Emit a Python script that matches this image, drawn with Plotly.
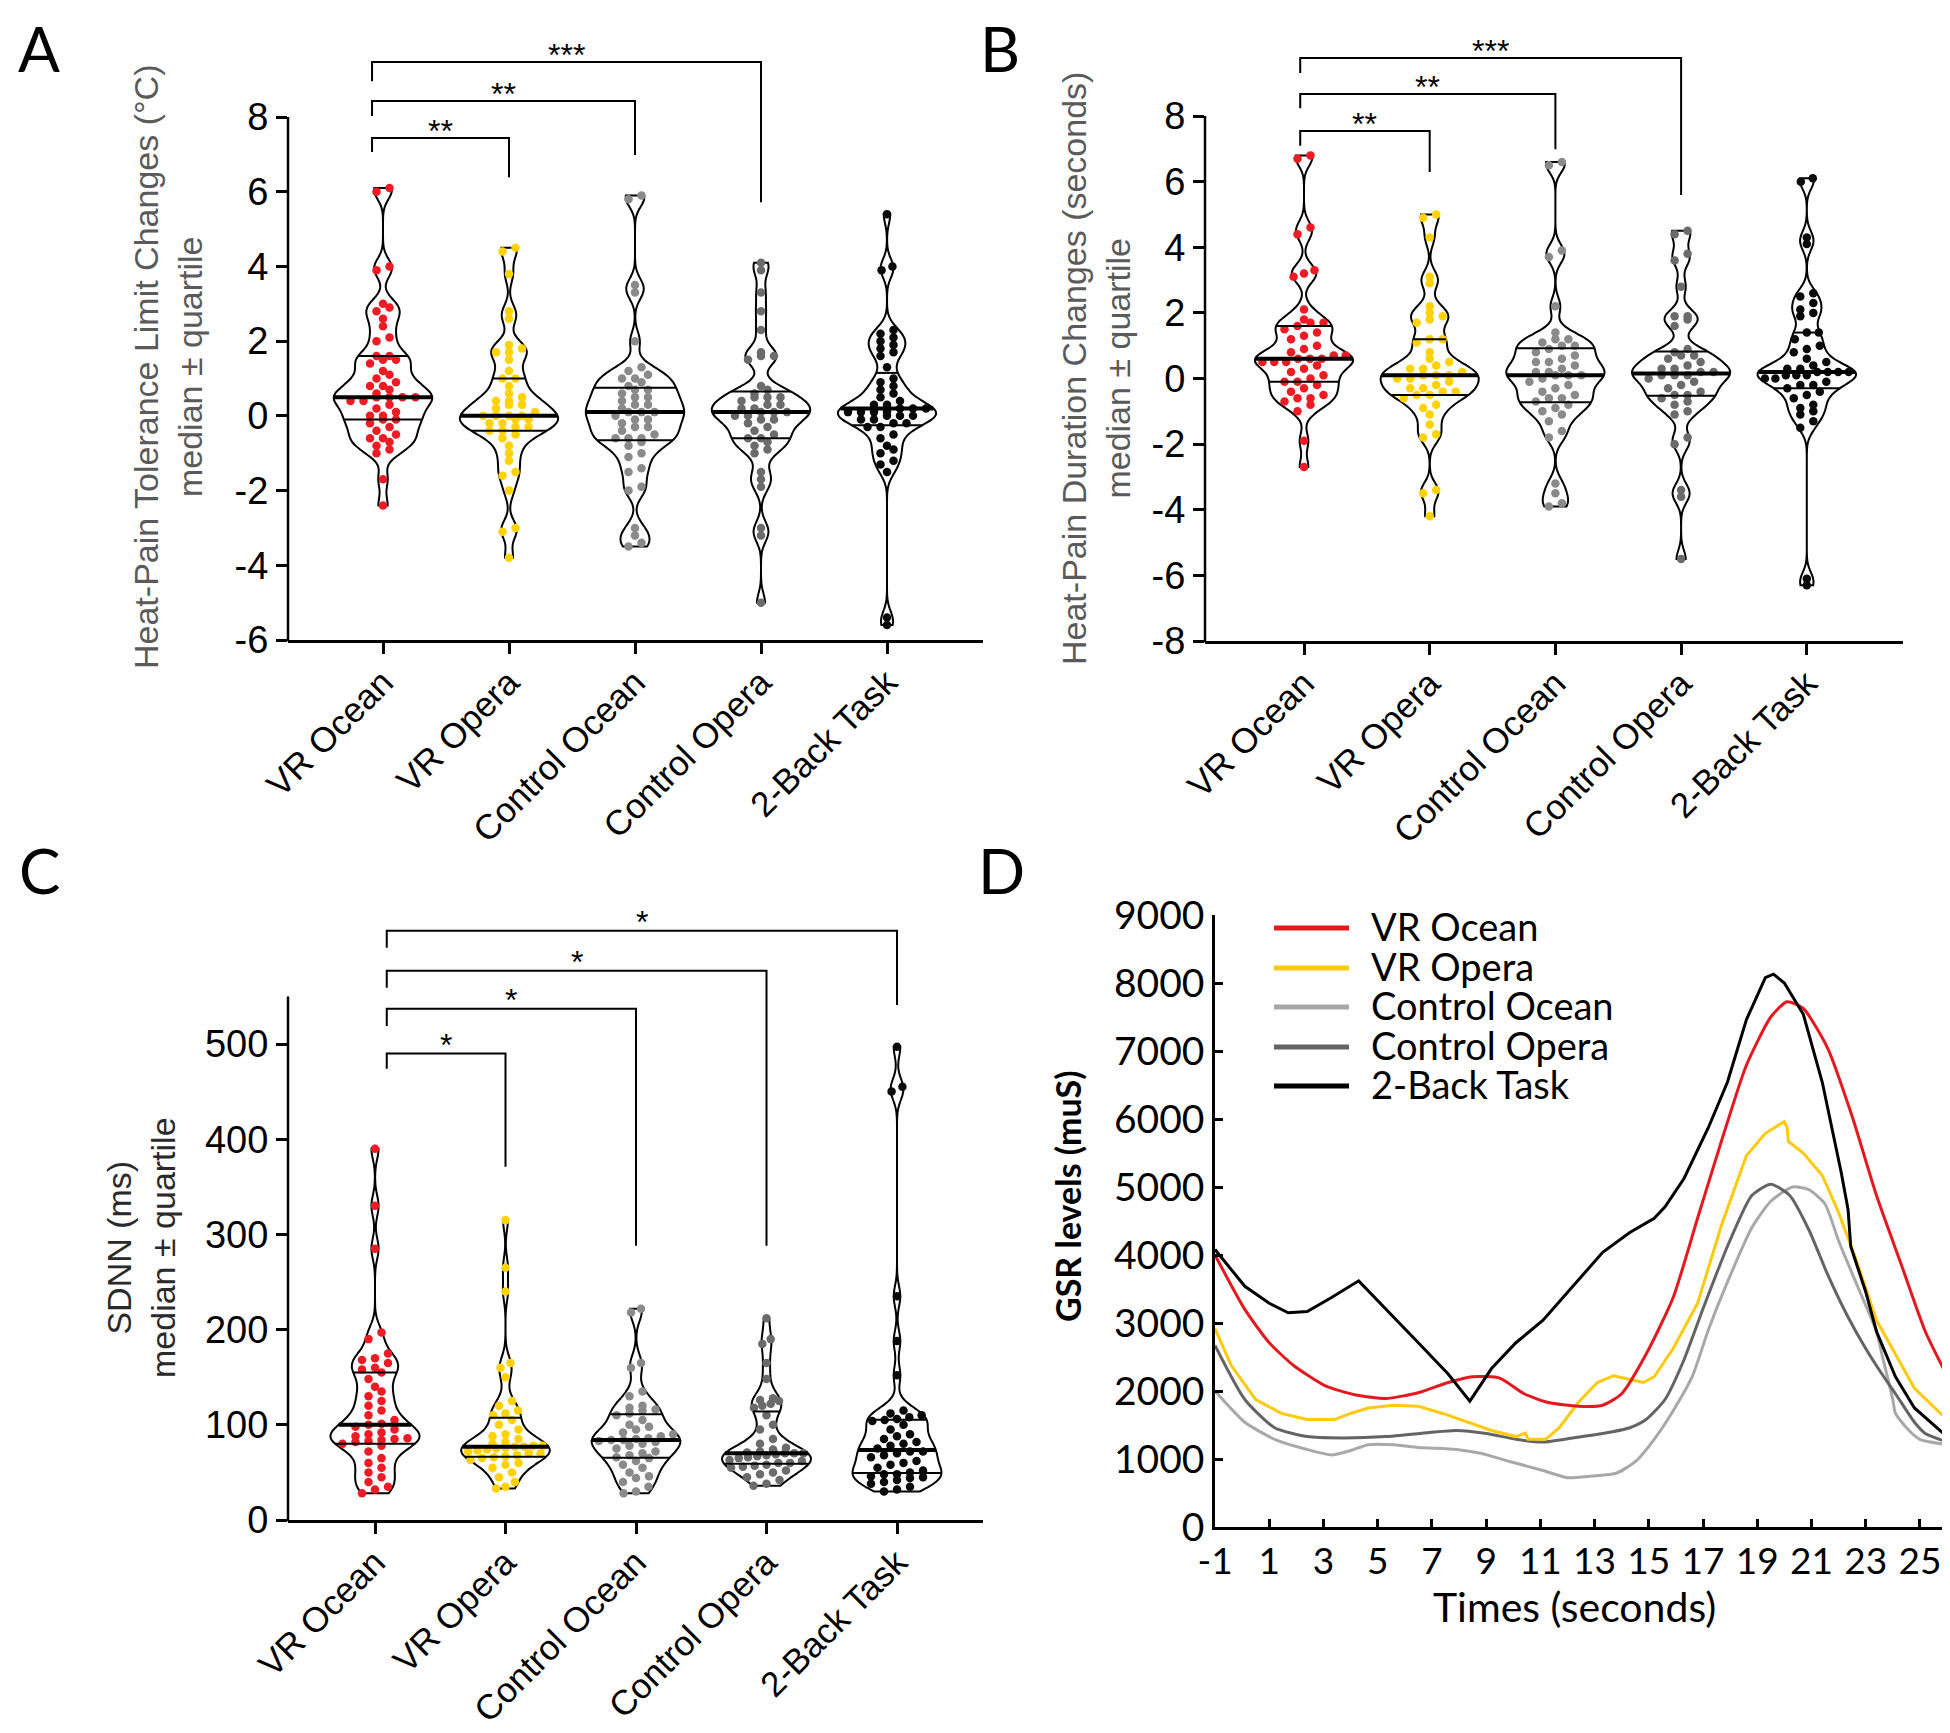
import numpy as np
import plotly.graph_objects as go

W, H = 1950, 1733

GROUPS = ["VR Ocean", "VR Opera", "Control Ocean", "Control Opera", "2-Back Task"]
POINT_COLORS = ["#ed1c24", "#ffd200", "#8a8a8a", "#6b6b6b", "#0a0a0a"]

# ---------------- Panel A : heat-pain tolerance limit changes (deg C)
A_VR_OCEAN = [6.1, 6.0, 4.0, 3.9, 3.0, 2.9, 2.8, 2.6, 2.4, 2.1, 2.0, 1.6, 1.6, 1.5, 1.5, 1.4, 1.2, 1.1, 1.0, 0.9,
              0.8, 0.8, 0.7, 0.6, 0.5, 0.5, 0.5, 0.5, 0.4, 0.4, 0.3, 0.2, 0.1, 0.0, 0.0, -0.1, -0.1, -0.2, -0.3,
              -0.4, -0.5, -0.6, -0.6, -0.7, -0.8, -0.9, -1.0, -1.7, -2.4]
A_VR_OPERA = [4.5, 4.4, 3.8, 2.8, 2.6, 1.9, 1.8, 1.7, 1.7, 1.5, 1.2, 1.0, 1.0, 0.8, 0.6, 0.5, 0.4, 0.4, 0.3, 0.3,
              0.2, 0.1, 0.0, 0.0, 0.0, 0.0, -0.1, -0.1, -0.2, -0.2, -0.3, -0.3, -0.4, -0.4, -0.5, -0.6, -0.8,
              -1.0, -1.2, -1.5, -1.6, -2.0, -3.0, -3.1, -3.8]
A_CTRL_OCEAN = [5.9, 5.8, 3.5, 3.3, 2.0, 1.3, 1.2, 1.1, 1.0, 1.0, 0.9, 0.8, 0.7, 0.7, 0.6, 0.5, 0.5, 0.4, 0.3, 0.3,
                0.2, 0.1, 0.1, 0.1, 0.0, -0.1, -0.1, -0.2, -0.3, -0.3, -0.4, -0.5, -0.6, -0.6, -0.6, -0.7, -0.8,
                -1.0, -1.1, -1.4, -1.5, -1.9, -2.0, -3.0, -3.2, -3.4, -3.5]
A_CTRL_OPERA = [4.1, 3.9, 3.3, 2.8, 2.3, 1.7, 1.6, 1.6, 1.5, 0.8, 0.7, 0.6, 0.5, 0.5, 0.5, 0.4, 0.3, 0.3, 0.2, 0.2,
                0.1, 0.1, 0.1, 0.0, 0.0, -0.1, -0.1, -0.2, -0.3, -0.4, -0.5, -0.6, -0.6, -0.7, -0.8, -0.9, -1.0,
                -1.5, -1.7, -1.9, -3.0, -3.2, -5.0]
A_2BACK = [5.4, 4.0, 3.9, 2.3, 2.2, 2.1, 2.0, 1.9, 1.8, 1.7, 1.6, 1.3, 1.0, 0.9, 0.8, 0.7, 0.6, 0.5, 0.4, 0.3, 0.3,
           0.2, 0.2, 0.2, 0.1, 0.1, 0.1, 0.1, 0.0, 0.0, 0.0, -0.1, -0.1, -0.2, -0.2, -0.3, -0.3, -0.5, -0.6, -0.8,
           -0.9, -1.0, -1.2, -1.3, -1.5, -5.4, -5.6]
A_YTICKS = [-6, -4, -2, 0, 2, 4, 6, 8]
# (target group, left-end y, bracket y, right-end y, label)
A_BRACKETS = [(1, 7.06, 7.44, 6.39, "**"), (2, 8.03, 8.43, 6.98, "**"), (3, 8.96, 9.47, 5.72, "***")]

# ---------------- Panel B : heat-pain duration changes (seconds)
B_VR_OCEAN = [6.8, 6.7, 4.6, 4.4, 3.3, 3.2, 3.1, 2.1, 1.8, 1.7, 1.7, 1.6, 1.5, 1.4, 1.3, 1.2, 1.0, 0.9, 0.8, 0.7,
              0.7, 0.6, 0.6, 0.6, 0.5, 0.5, 0.5, 0.4, 0.3, 0.2, 0.1, 0.0, -0.1, -0.1, -0.2, -0.3, -0.4, -0.5,
              -0.6, -0.6, -0.7, -0.8, -1.0, -1.9, -2.7]
B_VR_OPERA = [5.0, 4.9, 4.3, 3.1, 2.9, 2.2, 2.0, 1.9, 1.8, 1.7, 1.2, 1.2, 1.1, 0.8, 0.6, 0.5, 0.4, 0.3, 0.3, 0.2,
              0.1, 0.1, 0.1, 0.0, 0.0, -0.1, -0.2, -0.3, -0.3, -0.4, -0.4, -0.5, -0.5, -0.6, -0.8, -0.9, -1.1,
              -1.4, -1.7, -1.8, -3.4, -3.5, -4.2]
B_CTRL_OCEAN = [6.6, 6.5, 3.9, 3.7, 2.2, 1.4, 1.2, 1.2, 1.1, 1.0, 1.0, 0.9, 0.8, 0.7, 0.6, 0.5, 0.5, 0.4, 0.3, 0.2,
                0.2, 0.1, 0.1, 0.1, 0.0, -0.1, -0.2, -0.3, -0.4, -0.5, -0.6, -0.6, -0.7, -0.8, -0.9, -1.0, -1.1,
                -1.3, -1.6, -1.8, -3.2, -3.5, -3.8, -3.9]
B_CTRL_OPERA = [4.5, 4.4, 3.8, 3.6, 2.8, 1.9, 1.9, 1.8, 1.6, 0.9, 0.8, 0.7, 0.7, 0.6, 0.5, 0.4, 0.3, 0.3, 0.2, 0.2,
                0.1, 0.1, 0.1, 0.0, -0.1, -0.2, -0.3, -0.4, -0.5, -0.5, -0.6, -0.7, -0.8, -1.0, -1.1, -1.8, -2.0,
                -3.4, -3.6, -5.5]
B_2BACK = [6.1, 6.0, 4.3, 4.1, 2.6, 2.5, 2.3, 2.1, 2.0, 1.9, 1.4, 1.4, 1.2, 1.0, 0.9, 0.8, 0.6, 0.5, 0.4, 0.3, 0.3,
           0.2, 0.2, 0.2, 0.2, 0.1, 0.1, 0.1, 0.0, 0.0, -0.1, -0.2, -0.2, -0.3, -0.4, -0.5, -0.6, -0.8, -0.9, -1.0,
           -1.1, -1.3, -1.5, -6.1, -6.3]
B_YTICKS = [-8, -6, -4, -2, 0, 2, 4, 6, 8]
B_BRACKETS = [(1, 7.09, 7.54, 6.29, "**"), (2, 8.24, 8.67, 6.99, "**"), (3, 9.31, 9.77, 5.59, "***")]

# ---------------- Panel C : SDNN (ms)
C_VR_OCEAN = [390, 330, 285, 197, 190, 175, 170, 168, 165, 160, 158, 155, 148, 140, 135, 130, 125, 120, 115, 110,
              105, 101, 100, 98, 95, 92, 90, 88, 86, 85, 84, 83, 82, 80, 78, 72, 65, 60, 55, 50, 45, 40, 35, 32, 28]
C_VR_OPERA = [315, 265, 240, 165, 160, 150, 125, 120, 115, 112, 110, 105, 100, 95, 90, 88, 85, 82, 80, 78, 78, 77,
              77, 76, 75, 74, 73, 72, 70, 70, 68, 67, 66, 65, 63, 60, 58, 55, 50, 45, 40, 35, 33]
C_CTRL_OCEAN = [222, 218, 165, 160, 135, 130, 120, 118, 116, 115, 112, 110, 105, 100, 98, 95, 92, 90, 88, 86, 85,
                84, 84, 83, 82, 80, 78, 75, 72, 70, 68, 66, 65, 62, 58, 55, 50, 46, 44, 40, 35, 30, 28]
C_CTRL_OPERA = [212, 190, 185, 165, 148, 128, 126, 125, 122, 120, 118, 110, 100, 95, 85, 80, 76, 74, 72, 71, 70,
                70, 70, 69, 68, 67, 66, 65, 63, 62, 60, 60, 58, 57, 56, 55, 52, 50, 48, 45, 42, 38, 36]
C_2BACK = [497, 455, 450, 235, 188, 152, 115, 112, 110, 108, 106, 105, 104, 100, 95, 90, 88, 85, 82, 80, 78, 75,
           72, 72, 70, 68, 66, 62, 60, 58, 55, 52, 50, 48, 48, 46, 45, 44, 42, 40, 38, 35, 32, 30]
C_YTICKS = [0, 100, 200, 300, 400, 500]
C_BRACKETS = [(1, 474, 490, 371, "*"), (2, 519, 537, 288, "*"), (3, 559, 577, 288, "*"), (4, 601, 619, 541, "*")]

# ---------------- Panel D : GSR time courses
D_T_VR_OCEAN = [-1, 0.1, 1.0, 1.9, 3.05, 4.2, 5.3, 6.5, 7.6, 8.5, 9.5, 10.4, 11.3, 12.4, 13.3, 14.0, 14.9, 15.9,
                16.8, 17.7, 18.6, 19.5, 20.1, 20.7, 21.6, 22.5, 23.4, 24.3, 25.2, 26.0]
D_V_VR_OCEAN = [4000, 3200, 2710, 2375, 2080, 1940, 1890, 1975, 2125, 2210, 2190, 1960, 1830, 1775, 1790, 1960,
                2540, 3375, 4540, 5700, 6790, 7500, 7725, 7625, 7040, 6040, 4875, 3875, 2875, 2225]
D_T_VR_OPERA = [-1, -0.4, 0.5, 1.45, 2.4, 3.4, 4.0, 4.65, 5.6, 6.5, 7.4, 8.3, 9.2, 10.1, 10.45, 10.55, 11.2, 11.7,
                12.4, 13.1, 13.7, 14.3, 14.8, 15.2, 15.9, 16.8, 17.7, 18.6, 19.3, 20.0, 20.1, 20.15, 20.7, 21.4,
                22.0, 22.7, 23.4, 24.1, 24.8, 26.0]
D_V_VR_OPERA = [2920, 2375, 1875, 1670, 1580, 1580, 1670, 1750, 1790, 1775, 1670, 1540, 1420, 1330, 1380, 1290,
                1290, 1460, 1830, 2125, 2225, 2170, 2125, 2210, 2625, 3290, 4460, 5460, 5790, 5960, 5875, 5670,
                5500, 5170, 4625, 3875, 3040, 2540, 2040, 1580]
D_T_CTRL_OCEAN = [-1, 0.1, 1.2, 2.4, 3.3, 4.0, 4.65, 5.6, 6.5, 7.9, 8.8, 9.9, 11.1, 12.0, 12.9, 13.8, 14.5, 15.2,
                  15.9, 16.6, 17.2, 17.9, 18.8, 19.5, 20.3, 20.9, 21.5, 22.0, 22.7, 23.4, 23.6, 24.0, 24.1, 24.6,
                  25.0, 26.0]
D_V_CTRL_OCEAN = [2000, 1540, 1290, 1140, 1060, 1125, 1210, 1210, 1170, 1140, 1085, 960, 830, 725, 750, 790, 960,
                  1290, 1710, 2210, 2900, 3600, 4400, 4790, 5000, 4960, 4750, 4210, 3540, 2875, 2540, 1875, 1670,
                  1420, 1290, 1210]
D_T_CTRL_OPERA = [-1, 0.1, 1.2, 2.4, 3.7, 5.3, 6.9, 7.9, 9.0, 10.1, 11.1, 12.2, 13.3, 14.3, 14.9, 15.6, 16.3, 17.0,
                  17.9, 18.8, 19.5, 20.2, 20.9, 21.6, 22.3, 23.0, 23.6, 24.1, 24.8, 25.2, 26.0]
D_V_CTRL_OPERA = [2670, 1875, 1460, 1330, 1310, 1330, 1390, 1420, 1375, 1290, 1250, 1310, 1375, 1460, 1580, 1875,
                  2460, 3210, 4125, 4875, 5040, 4875, 4375, 3710, 3125, 2625, 2250, 1960, 1540, 1375, 1250]
D_T_2BACK = [-1, 0.1, 1.0, 1.7, 2.4, 3.3, 4.3, 5.3, 6.5, 7.6, 8.4, 9.2, 10.1, 11.1, 12.2, 13.3, 14.3, 15.2, 15.6,
             16.3, 17.2, 17.9, 18.6, 19.3, 19.6, 20.0, 20.7, 21.4, 22.1, 22.35, 22.45, 23.0, 23.4, 24.1, 24.8, 26.0]
D_V_2BACK = [4080, 3540, 3290, 3150, 3170, 3375, 3620, 3210, 2710, 2250, 1850, 2330, 2710, 3040, 3540, 4040, 4330,
             4540, 4710, 5125, 5875, 6540, 7460, 8080, 8130, 8000, 7540, 6540, 5210, 4670, 4125, 3460, 2875, 2210,
             1750, 1330]
D_XTICKS = list(range(-1, 26, 2))
D_YTICKS = list(range(0, 9001, 1000))
D_LINE_COLORS = ["#e3191f", "#ffc90e", "#a8a8a8", "#646464", "#000000"]

# ---------------------------------------------------------------- layout helpers
FONT_V = "Liberation Sans, Arial, sans-serif"
FONT_D = "Lato, Noto Sans, sans-serif"


def py(p):
    return 1 - p / H


def px(p):
    return p / W


def tick_text(vals):
    return [str(v) for v in vals]  # plain hyphen-minus, as in the figure


PANELS = [
    dict(key="", groups=[A_VR_OCEAN, A_VR_OPERA, A_CTRL_OCEAN, A_CTRL_OPERA, A_2BACK], x_px=(280, 975),
         cat=(375, 126.0), yref=((8, 109), (-6, 632)), y_px=(15, 632), yticks=A_YTICKS, ax_top=8, ax_bot=-6,
         bw=0.25, width=0.78, row_h=0.18, brackets=A_BRACKETS, bl=-0.087, starshift=7),
    dict(key="2", groups=[B_VR_OCEAN, B_VR_OPERA, B_CTRL_OCEAN, B_CTRL_OPERA, B_2BACK], x_px=(1197, 1895),
         cat=(1296, 125.7), yref=((8, 108), (-8, 633)), y_px=(10, 633), yticks=B_YTICKS, ax_top=8, ax_bot=-8,
         bw=0.27, width=0.78, row_h=0.2, brackets=B_BRACKETS, bl=-0.03, starshift=7),
    dict(key="3", groups=[C_VR_OCEAN, C_VR_OPERA, C_CTRL_OCEAN, C_CTRL_OPERA, C_2BACK], x_px=(280, 975),
         cat=(367, 130.5), yref=((500, 1036), (0, 1512)), y_px=(880, 1512), yticks=C_YTICKS, ax_top=550,
         ax_bot=0, bw=11.0, width=0.68, row_h=7.0, brackets=C_BRACKETS, bl=0.09, starshift=9),
]


def make_hw(vals, bw, width):
    v = np.asarray(vals, float)
    lo, hi = v.min(), v.max()
    n = int(np.ceil((hi - lo) / (bw / 3)))
    grid = lo + np.arange(n + 1) * (hi - lo) / n

    def dens(y):
        y = np.atleast_1d(np.asarray(y, float))
        return np.exp(-0.5 * ((y[:, None] - v[None, :]) / bw) ** 2).sum(1)

    mx = dens(grid).max()
    return lambda y: float(width / 2 * dens(y)[0] / mx)


def swarm(vals, hw, row_h, dot_w):
    v = np.sort(np.asarray(vals, float))
    rows, cur = [], [v[0]]
    for x in v[1:]:
        if x - cur[0] <= row_h:
            cur.append(x)
        else:
            rows.append(cur)
            cur = [x]
    rows.append(cur)
    xs, ys = [], []
    for r in rows:
        k = len(r)
        a = min(0.85 * hw(np.mean(r)), (k - 1) / 2 * dot_w)
        offs = np.linspace(-a, a, k) if k > 1 else [0.0]
        xs += list(offs)
        ys += list(r)
    return np.array(xs), np.array(ys)


fig = go.Figure()
layout = dict(template="none", width=W, height=H, margin=dict(l=0, r=0, t=0, b=0, pad=0),
              paper_bgcolor="white", plot_bgcolor="rgba(0,0,0,0)", showlegend=False, violinmode="overlay",
              violingap=0, violingroupgap=0)
shapes, annos = [], []

for P in PANELS:
    k = P["key"]
    xa, ya = "x" + k, "y" + k
    c0, step = P["cat"]
    xr = [(P["x_px"][0] - c0) / step, (P["x_px"][1] - c0) / step]
    (v1, p1), (v2, p2) = P["yref"]
    s = (p2 - p1) / (v1 - v2)
    yr = [v2 - (P["y_px"][1] - p2) / s, v1 + (p1 - P["y_px"][0]) / s]

    def ypix(v, v1=v1, p1=p1, s=s):
        return p1 + (v1 - v) * s

    layout["xaxis" + k] = dict(domain=[px(P["x_px"][0]), px(P["x_px"][1])], range=xr, type="linear",
                               anchor=ya, tickvals=list(range(5)), ticktext=GROUPS, tickangle=-45,
                               ticks="outside", ticklen=11, tickwidth=2.5, tickcolor="black",
                               showline=True, linewidth=2.5, linecolor="black", showgrid=False,
                               zeroline=False, automargin=False, ticklabelstandoff=-6,
                               tickfont=dict(family=FONT_V, size=35, color="black"))
    layout["yaxis" + k] = dict(domain=[py(P["y_px"][1]), py(P["y_px"][0])], range=yr, anchor=xa,
                               tickvals=P["yticks"], ticktext=tick_text(P["yticks"]), ticks="outside",
                               ticklen=11, tickwidth=2.5, automargin=False,
                               tickcolor="black", showline=False, showgrid=False, zeroline=False,
                               tickfont=dict(family=FONT_V, size=38, color="black"))
    shapes.append(dict(type="line", xref="paper", yref="paper", x0=px(P["x_px"][0]), x1=px(P["x_px"][0]),
                       y0=py(ypix(P["ax_bot"]) + 1.2), y1=py(ypix(P["ax_top"])),
                       line=dict(color="black", width=2.5)))

    dot_w = 13.0 / step
    for i, vals in enumerate(P["groups"]):
        fig.add_trace(go.Violin(x=[i] * len(vals), y=vals, xaxis=xa, yaxis=ya, width=P["width"],
                                bandwidth=P["bw"], spanmode="hard", points=False, scalemode="width",
                                line=dict(color="black", width=2), fillcolor="rgba(255,255,255,0)",
                                box_visible=False, meanline_visible=False, hoverinfo="skip",
                                showlegend=False))
        hw = make_hw(vals, P["bw"], P["width"])
        ox, oy = swarm(vals, hw, P["row_h"], dot_w)
        fig.add_trace(go.Scatter(x=i + ox, y=oy, xaxis=xa, yaxis=ya, mode="markers",
                                 marker=dict(size=8.5, color=POINT_COLORS[i], line=dict(width=0)),
                                 hoverinfo="skip", showlegend=False))
        q1, med, q3 = np.percentile(np.asarray(vals, float), [25, 50, 75])
        qx, qy = [], []
        for q in (q1, q3):
            h = hw(q)
            qx += [i - h, i + h, None]
            qy += [q, q, None]
        fig.add_trace(go.Scatter(x=qx, y=qy, xaxis=xa, yaxis=ya, mode="lines",
                                 line=dict(color="black", width=2), hoverinfo="skip", showlegend=False))
        h = hw(med)
        fig.add_trace(go.Scatter(x=[i - h, i + h], y=[med, med], xaxis=xa, yaxis=ya, mode="lines",
                                 line=dict(color="black", width=4), hoverinfo="skip", showlegend=False))

    # significance brackets
    for (j, yl, yb, yrr, lab) in P["brackets"]:
        fig.add_trace(go.Scatter(x=[P["bl"], P["bl"], j, j], y=[yl, yb, yb, yrr], xaxis=xa, yaxis=ya,
                                 mode="lines", line=dict(color="black", width=2), hoverinfo="skip",
                                 showlegend=False))
        annos.append(dict(xref=xa, yref=ya, x=(P["bl"] + j) / 2, y=yb, text=lab, showarrow=False,
                          xanchor="center", yanchor="middle", yshift=P["starshift"],
                          font=dict(family=FONT_V, size=32, color="black")))

# y titles of violin panels
annos.append(dict(xref="paper", yref="paper", x=px(160), y=py(359), textangle=-90, showarrow=False,
                  text="Heat-Pain Tolerance Limit Changes (°C)<br>median ± quartile",
                  xanchor="center", yanchor="middle", font=dict(family=FONT_V, size=34, color="#5a5a5a")))
annos.append(dict(xref="paper", yref="paper", x=px(1088), y=py(361), textangle=-90, showarrow=False,
                  text="Heat-Pain Duration Changes (seconds)<br>median ± quartile",
                  xanchor="center", yanchor="middle", font=dict(family=FONT_V, size=34, color="#5a5a5a")))
annos.append(dict(xref="paper", yref="paper", x=px(133), y=py(1240), textangle=-90, showarrow=False,
                  text="SDNN (ms)<br>median ± quartile",
                  xanchor="center", yanchor="middle", font=dict(family=FONT_V, size=34, color="#2a2a2a")))

# ---------------------------------------------------------------- Panel D
D_SERIES = [("VR Ocean", D_T_VR_OCEAN, D_V_VR_OCEAN, "spline"),
            ("VR Opera", D_T_VR_OPERA, D_V_VR_OPERA, "linear"),
            ("Control Ocean", D_T_CTRL_OCEAN, D_V_CTRL_OCEAN, "spline"),
            ("Control Opera", D_T_CTRL_OPERA, D_V_CTRL_OPERA, "spline"),
            ("2-Back Task", D_T_2BACK, D_V_2BACK, "linear")]
draw_order = [2, 3, 1, 0, 4]
for idx in draw_order:
    name, t, v, shp = D_SERIES[idx]
    fig.add_trace(go.Scatter(x=t, y=v, xaxis="x4", yaxis="y4", mode="lines", name=name,
                             line=dict(color=D_LINE_COLORS[idx], width=3, shape=shp, smoothing=0.6),
                             hoverinfo="skip", showlegend=False))

layout["xaxis4"] = dict(domain=[px(1207), px(1939)], range=[-1, 26], anchor="y4", tickvals=D_XTICKS,
                        ticktext=tick_text(D_XTICKS), automargin=False,
                        ticks="inside", ticklen=8, tickwidth=2.5, tickcolor="black", showline=True,
                        linewidth=2.5, linecolor="black", showgrid=False, zeroline=False,
                        tickfont=dict(family=FONT_D, size=37, color="black"))
layout["yaxis4"] = dict(domain=[py(1519), py(907)], range=[0, 9000], anchor="x4", tickvals=D_YTICKS,
                        ticktext=tick_text(D_YTICKS), automargin=False,
                        ticks="inside", ticklen=8, tickwidth=2.5, tickcolor="black", showline=True,
                        linewidth=2.5, linecolor="black", showgrid=False, zeroline=False,
                        tickfont=dict(family=FONT_D, size=39, color="black"))
annos.append(dict(xref="paper", yref="paper", x=px(1566), y=py(1598), text="Times (seconds)", showarrow=False,
                  xanchor="center", yanchor="middle", font=dict(family=FONT_D, size=41, color="black")))
annos.append(dict(xref="paper", yref="paper", x=px(1059), y=py(1188), text="<b>GSR levels (muS)</b>",
                  textangle=-90, showarrow=False, xanchor="center", yanchor="middle",
                  font=dict(family=FONT_D, size=34, color="black")))

# legend of panel D
LEG_ROWS = [920, 960, 999, 1039, 1078]
for idx, (name, _, _, _) in enumerate(D_SERIES):
    shapes.append(dict(type="line", xref="paper", yref="paper", x0=px(1266), x1=px(1341),
                       y0=py(LEG_ROWS[idx]), y1=py(LEG_ROWS[idx]),
                       line=dict(color=D_LINE_COLORS[idx], width=5)))
    annos.append(dict(xref="paper", yref="paper", x=px(1361), y=py(LEG_ROWS[idx] - 2), text=name,
                      showarrow=False, xanchor="left", yanchor="middle",
                      font=dict(family=FONT_D, size=38, color="black")))

# panel letters
for lab, (lx, ly) in zip("ABCD", [(31, 40), (992, 40), (31, 862), (993, 862)]):
    annos.append(dict(xref="paper", yref="paper", x=px(lx), y=py(ly), text=lab, showarrow=False,
                      xanchor="center", yanchor="middle", font=dict(family=FONT_D, size=62, color="black")))

layout["shapes"] = shapes
layout["annotations"] = annos
fig.update_layout(**layout)
fig.write_html("out.html")
